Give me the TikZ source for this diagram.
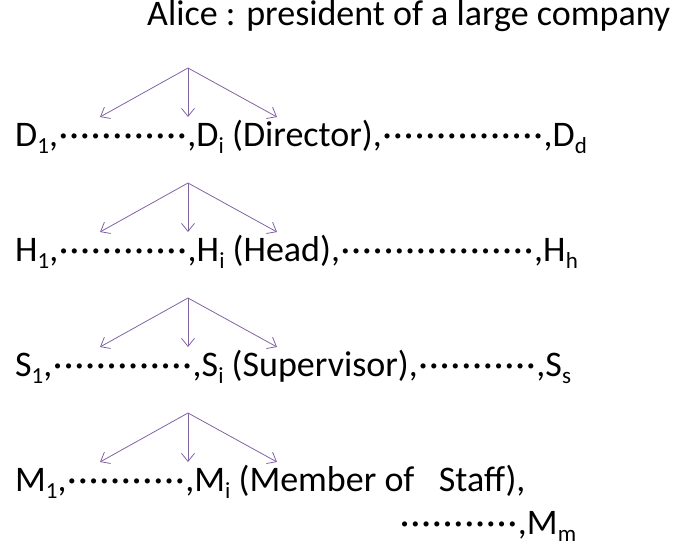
\documentclass[tikz,border=0pt]{standalone}
\usepackage{fontspec}
\setmainfont{Carlito}
\usetikzlibrary{
    arrows.meta,
    positioning
}
\definecolor{OrgPurple}{RGB}{128,100,162}
\tikzset{
  rank/.style  = {anchor=base west, inner sep=0pt, font=\fontsize{36}{42}\selectfont},
  arr/.style   = {-{Straight Barb[length=8pt,width=13pt]}, OrgPurple, line width=0.8pt}
}
% subscript and run of dots
\newcommand{\sbs}[1]{\raisebox{-0.2em}{\fontsize{23}{23}\selectfont #1}}
\newcommand{\dts}[1]{\foreach \k in {1,...,#1}{\makebox[0.3em]{\textperiodcentered}}}

\begin{document}
\begin{tikzpicture}[x=1pt,y=-1pt]
\useasboundingbox (0,0) rectangle (677,551);

\node[rank] (alice) at (147,26) {Alice : president of a large company};

\node[rank] (dir) at (15,146)
  {D\sbs{1},\dts{12},D\sbs{i} (Director),\dts{15},D\sbs{d}};
\node[rank] (head) at (15,261)
  {H\sbs{1},\dts{12},H\sbs{i} (Head),\dts{18},H\sbs{h}};
\node[rank] (sup) at (15,376)
  {S\sbs{1},\dts{13},S\sbs{i} (Supervisor),\dts{11},S\sbs{s}};
\node[rank] (mem) at (15,491)
  {M\sbs{1},\dts{11},M\sbs{i} (Member of\ \ \ Staff),};
\node[rank] (memlast) at (399,534) {\dts{11},M\sbs{m}};

% fan-out arrows above each rank
\foreach \r/\y in {d/0,h/1,s/2,m/3} {
  \coordinate (\r top) at (188,68+115*\y);
  \coordinate (\r l) at (100,117+115*\y);
  \coordinate (\r c) at (188,117+115*\y);
  \coordinate (\r r) at (277,117+115*\y);
  \draw[arr] (\r top) -- (\r l);
  \draw[arr] (\r top) -- (\r c);
  \draw[arr] (\r top) -- (\r r);
}
\end{tikzpicture}
\end{document}
